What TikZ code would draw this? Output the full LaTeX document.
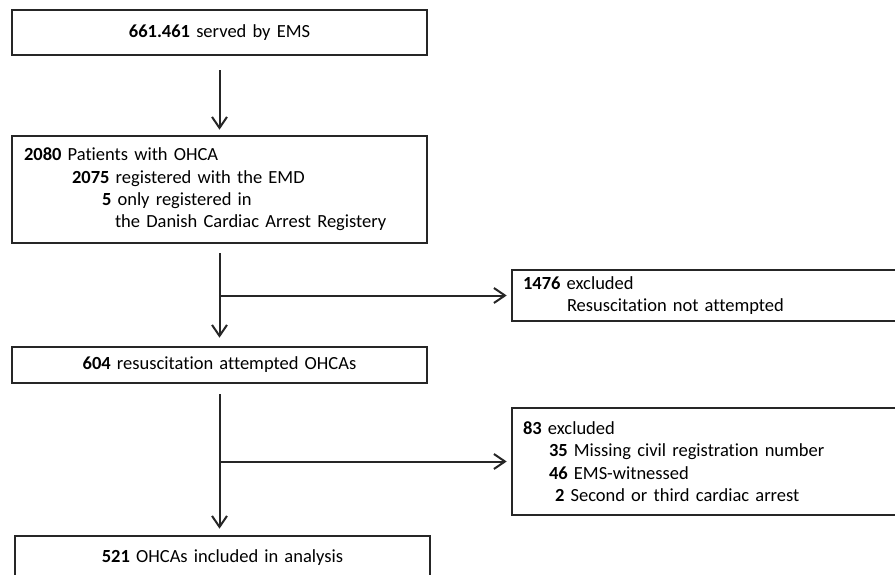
\documentclass[tikz,border=0pt]{standalone}
\usepackage{fontspec}
\setmainfont{Carlito}[Ligatures=NoCommon]
\usetikzlibrary{positioning,calc,arrows.meta}

\begin{document}
\begin{tikzpicture}[x=1pt,y=1pt,on grid,
	>={Straight Barb[length=11pt,width=15pt]},
	flow/.style={draw=black!85,line width=2.6pt,text width=391pt,inner xsep=12pt,inner ysep=0pt,
		font=\fontsize{18.5}{22.3}\selectfont},
	side/.style={flow,text width=366pt,inner xsep=11pt,align=left},
	link/.style={->,draw=black!85,line width=2pt}]
	\clip (0,0) rectangle (895,-575);
	\node[flow,align=center,minimum height=45pt] (ems) at (219.5,-32.5) {\textbf{661.461} served by EMS};
	\node[flow,align=left,minimum height=107pt] (ohca) [below=157pt of ems] {\textbf{2080} Patients with OHCA\\
		\hspace*{48pt}\textbf{2075} registered with the EMD\\
		\hspace*{78pt}\textbf{5} only registered in\\
		\hspace*{91pt}the Danish Cardiac Arrest Registery};
	\node[side,minimum height=51pt] (ex_1) [below right=106pt and 486.5pt of ohca] {\textbf{1476} excluded\\
		\hspace*{44pt}Resuscitation not attempted};
	\node[flow,align=center,minimum height=36pt] (att) [below=175.5pt of ohca] {\textbf{604} resuscitation attempted OHCAs};
	\node[side,minimum height=107pt] (ex_2) [below=166pt of ex_1] {\textbf{83} excluded\\
		\hspace*{26pt}\textbf{35} Missing civil registration number\\
		\hspace*{26pt}\textbf{46} EMS-witnessed\\
		\hspace*{32pt}\textbf{2} Second or third cardiac arrest};
	\node[flow,align=center,minimum height=44pt] (incl) [below=193pt of att,xshift=3pt] {\textbf{521} OHCAs included in analysis};
	% junctions on the trunks
	\coordinate (j_1) at (ohca.south |- ex_1.west);
	\coordinate (j_2) at (att.south |- ex_2.west);
	\draw[link,shorten <=14pt,shorten >=5pt] (ems) -- (ohca);
	\draw[link,shorten <=9pt,shorten >=8pt] (ohca) -- (att);
	\draw[link,shorten >=4pt] (j_1) -- (ex_1);
	\draw[link,shorten <=10pt,shorten >=6pt] (att.south) -- (att.south |- incl.north);
	\draw[link,shorten >=4pt] (j_2) -- (ex_2);
\end{tikzpicture}
\end{document}
